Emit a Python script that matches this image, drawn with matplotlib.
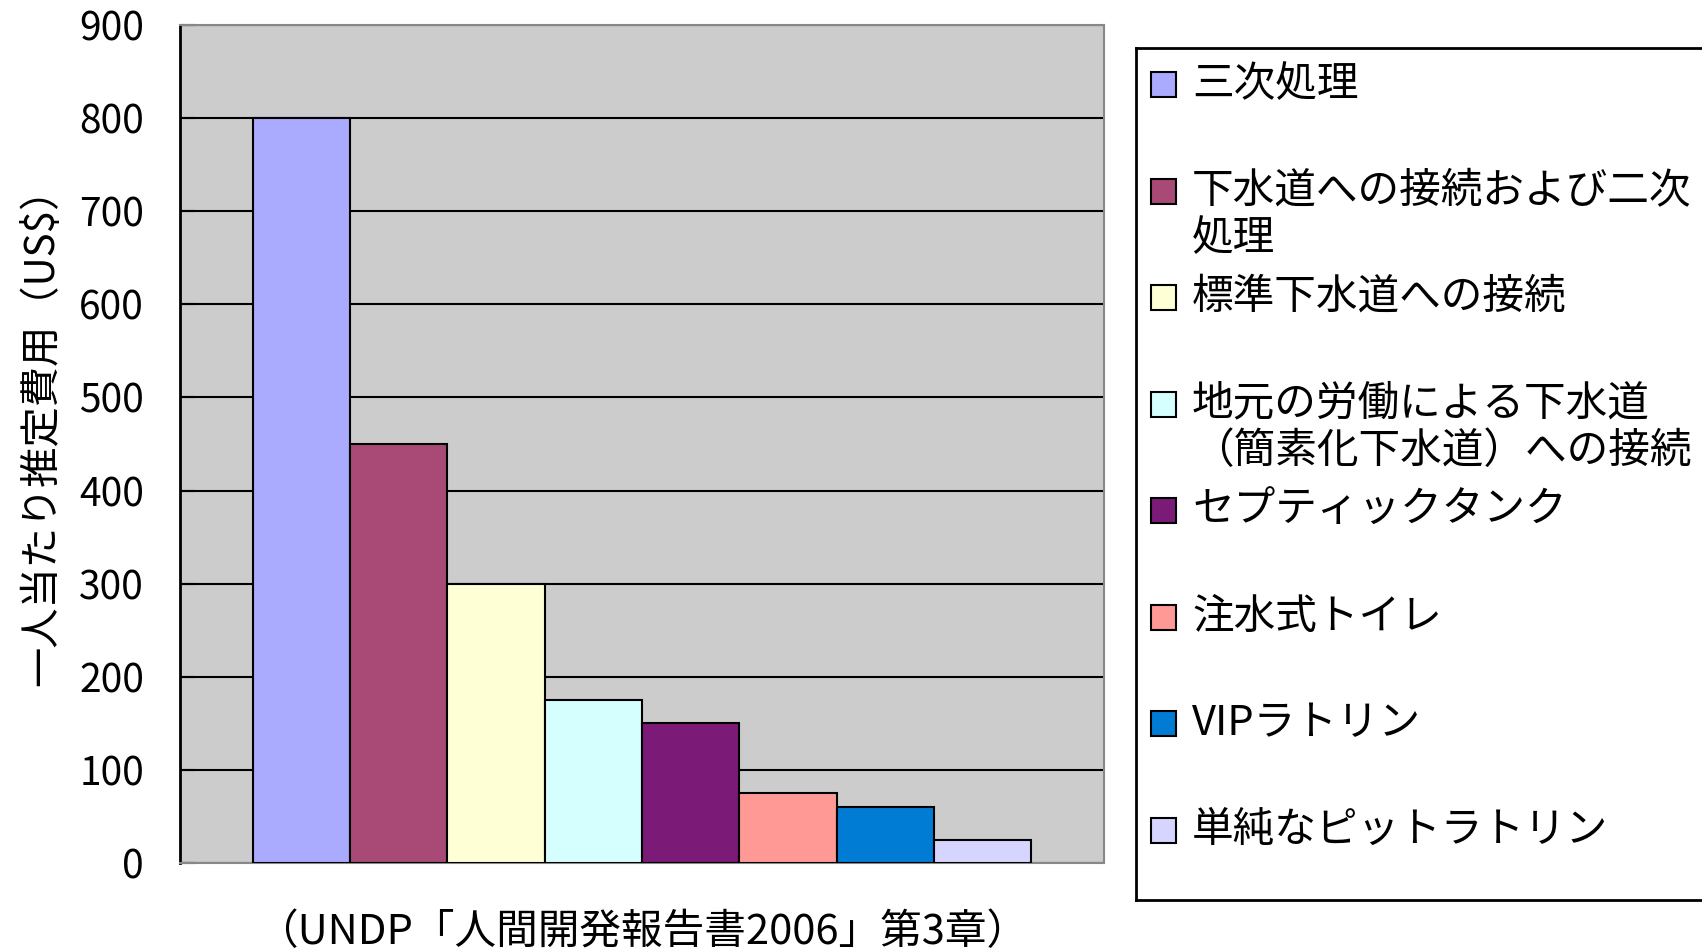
import numpy as np
import matplotlib
matplotlib.use("Agg")
import matplotlib.pyplot as plt
from matplotlib.patches import Rectangle

plt.rcParams['font.family'] = ['Noto Sans CJK JP', 'DejaVu Sans']

# data
labels = ["三次処理",
          "下水道への接続および二次\n処理",
          "標準下水道への接続",
          "地元の労働による下水道\n（簡素化下水道）への接続",
          "セプティックタンク",
          "注水式トイレ",
          "VIPラトリン",
          "単純なピットラトリン"]
costs = [800, 450, 300, 175, 150, 75, 60, 25]
colors = ["#AAAAFF", "#A94A76", "#FFFFD5", "#D5FFFF",
          "#7B1A77", "#FF9995", "#007CD5", "#D5D5FF"]
yticks = [0, 100, 200, 300, 400, 500, 600, 700, 800, 900]

W, H = 1702, 951
fig = plt.figure(figsize=(W/100, H/100), dpi=100)

# plot area in pixels: x 180..1104, y 25..863
ax = fig.add_axes([180/W, 1-863/H, (1104-180)/W, (863-25)/H])
ax.set_facecolor("#CCCCCC")
ax.set_axisbelow(True)
ax.yaxis.grid(True, color="black", lw=1.5)

x = np.arange(len(costs))
ax.bar(x, costs, width=1.0, color=colors, edgecolor="black", lw=1.5, zorder=3)

ax.set_xlim(-1.25, len(costs) + 0.25)
ax.set_ylim(0, 900)
ax.set_yticks(yticks)
ax.set_xticks([])
ax.tick_params(axis='y', direction='in', length=11, width=1.5, pad=26,
               labelsize=28, color="black")
for s in ['top', 'right', 'bottom']:
    ax.spines[s].set_color("#888888")
    ax.spines[s].set_linewidth(1.5)
ax.spines['left'].set_color("black")
ax.spines['left'].set_linewidth(2)

ax.set_ylabel("一人当たり推定費用（US$）", fontsize=29)
ax.yaxis.set_label_coords(-0.127, 0.52)
ax.set_xlabel("（UNDP「人間開発報告書2006」第3章）", fontsize=30, labelpad=35)

# legend box, drawn in pixel units
lx0, ly0, lx1, ly1 = 1136, 48, 1712, 900
lax = fig.add_axes([lx0/W, 1-ly1/H, (lx1-lx0)/W, (ly1-ly0)/H])
lax.set_xlim(0, lx1-lx0)
lax.set_ylim(ly1-ly0, 0)
lax.set_xticks([])
lax.set_yticks([])
for s in lax.spines.values():
    s.set_color("black")
    s.set_linewidth(2)

row0, row_gap, line_gap, sq = 36.5, 106.5, 47.8, 25
for i, (lab, c) in enumerate(zip(labels, colors)):
    yc = row0 + i * row_gap
    lax.add_patch(Rectangle((15, yc - sq/2), sq, sq, facecolor=c,
                            edgecolor="black", lw=1.5))
    for k, line in enumerate(lab.split("\n")):
        lax.text(56, yc + k * line_gap, line, fontsize=30, va='center',
                 ha='left')

fig.savefig("out.png", dpi=100)
